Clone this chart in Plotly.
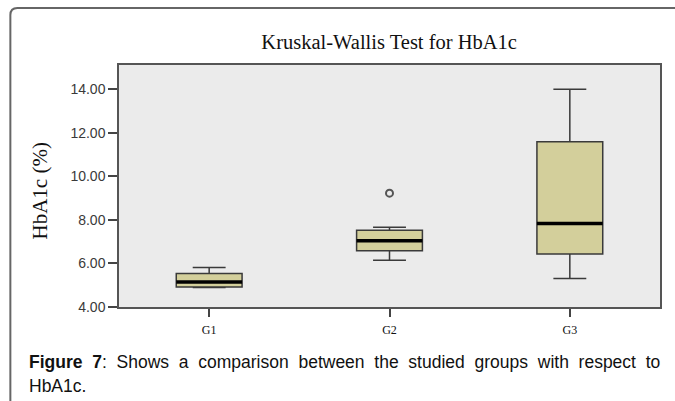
import plotly.graph_objects as go

groups = ["G1", "G2", "G3"]
lower_whisker = [4.90, 6.15, 5.31]
q1_vals = [4.92, 6.58, 6.43]
median_vals = [5.15, 7.04, 7.84]
q3_vals = [5.54, 7.53, 11.59]
upper_whisker = [5.82, 7.66, 14.00]
outlier_group = [1]
outlier_vals = [9.23]
y_ticks = [4, 6, 8, 10, 12, 14]
y_tick_text = ["4.00", "6.00", "8.00", "10.00", "12.00", "14.00"]
caption_words = ["Shows", "a", "comparison", "between", "the", "studied", "groups",
                 "with", "respect", "to"]

box_w = 0.365
positions = list(range(len(groups)))

fig = go.Figure()
fig.add_trace(go.Box(
    x=positions, q1=q1_vals, median=median_vals, q3=q3_vals,
    lowerfence=lower_whisker, upperfence=upper_whisker,
    width=box_w, whiskerwidth=0.5,
    fillcolor="#d3cf9b", line=dict(color="#3a3a3a", width=1.5),
    boxpoints=False, showlegend=False, hoverinfo="skip",
))
for i, m in zip(positions, median_vals):
    fig.add_trace(go.Scatter(
        x=[i - box_w / 2, i + box_w / 2], y=[m, m], mode="lines",
        line=dict(color="#000000", width=3.5), showlegend=False, hoverinfo="skip",
    ))
fig.add_trace(go.Scatter(
    x=outlier_group, y=outlier_vals, mode="markers",
    marker=dict(symbol="circle-open", size=7, color="#555555", line=dict(width=2)),
    showlegend=False, hoverinfo="skip",
))

W, H = 675, 401
L, R, T, B = 118.7, 15, 65, 94.3
pw, ph = W - L - R, H - T - B

def px(x):
    return (x - L) / pw

def py(y):
    return (H - B - y) / ph

# frame path (rounded top-left corner)
fx, fy, fr = 10, 8, 7
frame_path = (
    f"M {px(fx)},{py(H + 20)} L {px(fx)},{py(fy + fr)} "
    f"Q {px(fx)},{py(fy)} {px(fx + fr)},{py(fy)} L {px(W + 20)},{py(fy)}"
)

gap = " \u00a0"
caption_line1 = "<b>Figure" + gap + "7</b>:" + gap + gap.join(caption_words)

fig.update_layout(
    width=W, height=H,
    margin=dict(l=L, r=R, t=T, b=B),
    paper_bgcolor="white", plot_bgcolor="#ebebeb",
    title=dict(text="Kruskal-Wallis Test for HbA1c", x=px(389), xref="paper",
               xanchor="center", y=1 - 42 / H, yref="container", yanchor="middle",
               font=dict(family="Liberation Serif", size=20.5, color="#111111")),
    xaxis=dict(range=[-0.5, 2.5], tickmode="array", tickvals=positions, ticktext=groups,
               showgrid=False, zeroline=False, ticks="outside", ticklen=8,
               tickcolor="#444444", tickwidth=1.5, ticklabelstandoff=3,
               tickfont=dict(family="Liberation Serif", size=12, color="#111111"),
               showline=True, linecolor="#555555", linewidth=1.5, mirror=True),
    yaxis=dict(range=[4, 15.12], tickmode="array", tickvals=y_ticks, ticktext=y_tick_text,
               showgrid=False, zeroline=False, ticks="outside", ticklen=9,
               tickcolor="#444444", tickwidth=1.5,
               tickfont=dict(family="Liberation Sans", size=14, color="#3a3a3a"),
               showline=True, linecolor="#555555", linewidth=1.5, mirror=True),
    shapes=[dict(type="path", xref="paper", yref="paper", path=frame_path,
                 line=dict(color="#666666", width=2), layer="above")],
    annotations=[
        dict(text="HbA1c (%)", xref="paper", yref="paper", x=px(40), y=py(191),
             textangle=-90, showarrow=False, xanchor="center", yanchor="middle",
             font=dict(family="Liberation Serif", size=21, color="#111111")),
        dict(text=caption_line1,
             xref="paper", yref="paper", x=px(27), y=py(362), xanchor="left", yanchor="middle",
             showarrow=False, font=dict(family="Liberation Sans", size=17.5, color="#111111")),
        dict(text="HbA1c.", xref="paper", yref="paper", x=px(27), y=py(386),
             xanchor="left", yanchor="middle", showarrow=False,
             font=dict(family="Liberation Sans", size=17.5, color="#111111")),
    ],
)

fig.write_html("out.html", config={"displayModeBar": False},
               post_script="document.body.style.margin='0';")
